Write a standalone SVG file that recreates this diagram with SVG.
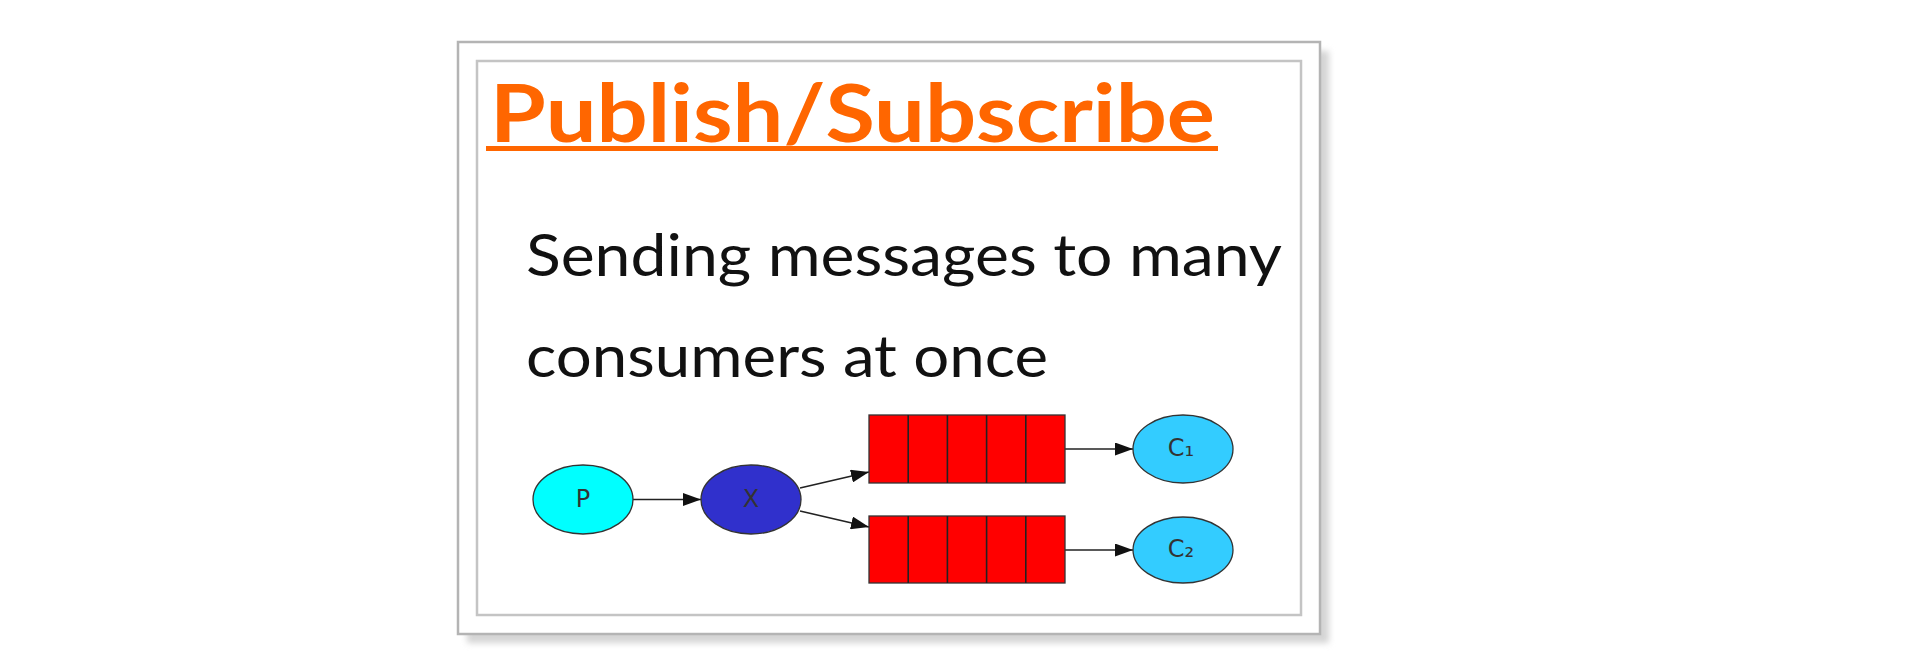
<svg xmlns="http://www.w3.org/2000/svg" width="1908" height="668" viewBox="0 0 1908 668">
<style>
.frame-outer{fill:#ffffff;stroke:#b4b4b4;stroke-width:2.5}
.frame-inner{fill:none;stroke:#c4c4c4;stroke-width:2.5}
.title{font-family:Lato,"Open Sans","Liberation Sans",sans-serif;font-weight:bold;font-size:80px;fill:#ff6600}
.body{font-family:Lato,"Open Sans","Liberation Sans",sans-serif;font-size:59px;fill:#111111}
.node{stroke:#333333;stroke-width:1.3}
.lbl{font-family:"DejaVu Sans","Liberation Sans",sans-serif;font-size:24px;text-anchor:middle;fill:#333333}
.edge{stroke:#222222;stroke-width:1.6;fill:none}
.q{fill:#ff0000;stroke:#333333;stroke-width:1.3}
.qd{stroke:#222222;stroke-width:1.6}
</style>
<defs>
<filter id="sh" x="-5%" y="-5%" width="110%" height="110%">
<feGaussianBlur stdDeviation="3"/>
</filter>
<marker id="arr" viewBox="0 0 18 13" refX="18" refY="6.5" markerWidth="18" markerHeight="13" markerUnits="userSpaceOnUse" orient="auto">
<path d="M0,0 L18,6.5 L0,13 Z" fill="#111111"/>
</marker>
</defs>
<rect width="1908" height="668" fill="#ffffff"/>
<g id="frame">
<rect x="467" y="51" width="862" height="592" fill="#d4d4d4" filter="url(#sh)"/>
<rect class="frame-outer" x="458" y="42" width="862" height="592"/>
<rect class="frame-inner" x="477" y="61" width="824" height="554"/>
</g>
<g id="title">
<text class="title" x="490" y="142" textLength="725" lengthAdjust="spacingAndGlyphs">Publish/Subscribe</text>
<rect x="486" y="146" width="732" height="5" fill="#ff6600"/>
</g>
<g id="subtitle">
<text class="body" x="526" y="276" textLength="756" lengthAdjust="spacingAndGlyphs">Sending messages to many</text>
<text class="body" x="526" y="377" textLength="522" lengthAdjust="spacingAndGlyphs">consumers at once</text>
</g>
<g id="connectors">
<line class="edge" x1="633" y1="499.5" x2="701" y2="499.5" marker-end="url(#arr)"/>
<line class="edge" x1="800" y1="488" x2="869" y2="472" marker-end="url(#arr)"/>
<line class="edge" x1="800" y1="511" x2="869" y2="527" marker-end="url(#arr)"/>
<line class="edge" x1="1065" y1="449" x2="1133" y2="449" marker-end="url(#arr)"/>
<line class="edge" x1="1065" y1="550" x2="1133" y2="550" marker-end="url(#arr)"/>
</g>
<g id="node-P">
<ellipse class="node" cx="583" cy="499.5" rx="50" ry="34.5" fill="#00ffff"/>
<text class="lbl" x="583" y="507">P</text>
</g>
<g id="node-X">
<ellipse class="node" cx="751" cy="499.5" rx="50" ry="34.5" fill="#3030cc"/>
<text class="lbl" x="751" y="507" fill="#111111">X</text>
</g>
<g id="node-Q1">
<rect class="q" x="869" y="415" width="196" height="68"/>
<line class="qd" x1="908.2" y1="415" x2="908.2" y2="483"/>
<line class="qd" x1="947.4" y1="415" x2="947.4" y2="483"/>
<line class="qd" x1="986.6" y1="415" x2="986.6" y2="483"/>
<line class="qd" x1="1025.8" y1="415" x2="1025.8" y2="483"/>
</g>
<g id="node-Q2">
<rect class="q" x="869" y="516" width="196" height="67"/>
<line class="qd" x1="908.2" y1="516" x2="908.2" y2="583"/>
<line class="qd" x1="947.4" y1="516" x2="947.4" y2="583"/>
<line class="qd" x1="986.6" y1="516" x2="986.6" y2="583"/>
<line class="qd" x1="1025.8" y1="516" x2="1025.8" y2="583"/>
</g>
<g id="node-C1">
<ellipse class="node" cx="1183" cy="449" rx="50" ry="34" fill="#33ccff"/>
<text class="lbl" x="1181" y="456">C₁</text>
</g>
<g id="node-C2">
<ellipse class="node" cx="1183" cy="550" rx="50" ry="33" fill="#33ccff"/>
<text class="lbl" x="1181" y="557">C₂</text>
</g>
</svg>
